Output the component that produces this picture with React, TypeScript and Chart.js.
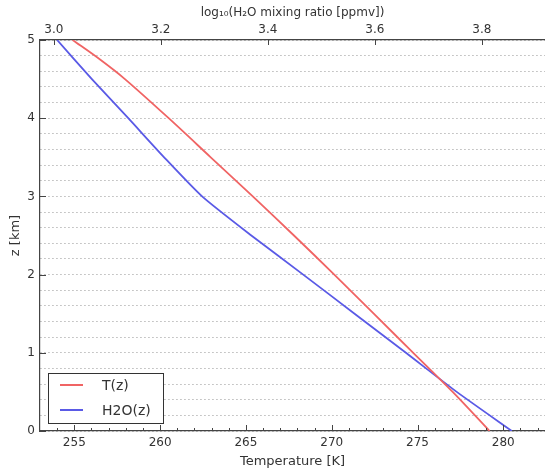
import React, { useEffect, useRef } from 'react';
import { Chart, registerables } from 'chart.js';

Chart.register(...registerables);

// Temperature profile T(z)
const Z_T = [0, 0.5, 1, 1.5, 2, 2.5, 3, 3.5, 4, 4.5, 4.75, 5];
const TEMP = [279.2, 277.05, 274.75, 272.45, 270.15, 267.8, 265.4, 262.95, 260.5, 257.95, 256.5, 254.9];

// log10 H2O mixing ratio profile
const Z_H2O = [0, 0.5, 1, 1.5, 2, 2.5, 3, 3.5, 4, 4.5, 5];
const LOG_H2O = [3.856, 3.753, 3.658, 3.562, 3.466, 3.369, 3.277, 3.206, 3.139, 3.071, 3.006];

// Axis ticks
const T_TICKS = [255, 260, 265, 270, 275, 280];
const T_MINOR = [254, 256, 257, 258, 259, 261, 262, 263, 264, 266, 267, 268, 269, 271, 272, 273, 274, 276, 277, 278, 279, 281, 282];
const LOG_TICKS = [3.0, 3.2, 3.4, 3.6, 3.8];
const Z_TICKS = [0, 1, 2, 3, 4, 5];
const Z_GRID_STEP = 0.2;

const T_MIN = 253;
const T_MAX = 282.43;
const LOG_MIN = 2.974;
const LOG_MAX = 3.918;

const FONT = 'DejaVu Sans';
const TEXT = '#333';
const AXIS = '#444';

const insideTicks = {
  id: 'insideTicks',
  afterDatasetsDraw(chart: any) {
    const { ctx, chartArea: a, scales } = chart;
    ctx.save();
    ctx.strokeStyle = AXIS;
    ctx.lineWidth = 1;
    const seg = (x1: number, y1: number, x2: number, y2: number) => {
      ctx.beginPath();
      ctx.moveTo(x1, y1);
      ctx.lineTo(x2, y2);
      ctx.stroke();
    };
    T_TICKS.forEach((v) => {
      const p = Math.round(scales.x.getPixelForValue(v)) + 0.5;
      seg(p, a.bottom, p, a.bottom - 6);
    });
    T_MINOR.forEach((v) => {
      const p = Math.round(scales.x.getPixelForValue(v)) + 0.5;
      seg(p, a.bottom, p, a.bottom - 3);
    });
    LOG_TICKS.forEach((v) => {
      const p = Math.round(scales.x2.getPixelForValue(v)) + 0.5;
      seg(p, a.top, p, a.top + 5);
    });
    Z_TICKS.forEach((v) => {
      const p = Math.round(scales.y.getPixelForValue(v)) + 0.5;
      seg(a.left, p, a.left + 6, p);
    });
    ctx.restore();
  },
};

const boxLegend = {
  id: 'boxLegend',
  afterDraw(chart: any) {
    const { ctx, chartArea: a } = chart;
    const x = a.left + 8;
    const w = 115;
    const h = 50;
    const y = a.bottom - 8 - h;
    ctx.save();
    ctx.fillStyle = '#fff';
    ctx.fillRect(x, y, w, h);
    ctx.strokeStyle = '#333';
    ctx.lineWidth = 1;
    ctx.strokeRect(Math.round(x) + 0.5, Math.round(y) + 0.5, w, h);
    ctx.font = `14px "${FONT}"`;
    ctx.textBaseline = 'middle';
    ctx.textAlign = 'left';
    chart.data.datasets.forEach((ds: any, i: number) => {
      const ry = y + 12 + i * 25;
      ctx.strokeStyle = ds.borderColor;
      ctx.lineWidth = 2;
      ctx.beginPath();
      ctx.moveTo(x + 12, ry);
      ctx.lineTo(x + 35, ry);
      ctx.stroke();
      ctx.fillStyle = TEXT;
      ctx.fillText(ds.label, x + 54, ry + 1);
    });
    ctx.restore();
  },
};

export default function App() {
  const ref = useRef<HTMLCanvasElement>(null);

  useEffect(() => {
    document.body.style.overflow = 'hidden';
    const zGrid: number[] = [];
    for (let i = 0; i <= 25; i++) zGrid.push(Math.round(i * Z_GRID_STEP * 10) / 10);

    const chart = new Chart(ref.current as HTMLCanvasElement, {
      type: 'scatter',
      data: {
        datasets: [
          {
            label: 'T(z)',
            data: Z_T.map((z, i) => ({ x: TEMP[i], y: z })),
            xAxisID: 'x',
            yAxisID: 'y',
            showLine: true,
            borderColor: '#f06464',
            backgroundColor: '#f06464',
            borderWidth: 1.8,
            pointRadius: 0,
            tension: 0.3,
          },
          {
            label: 'H2O(z)',
            data: Z_H2O.map((z, i) => ({ x: LOG_H2O[i], y: z })),
            xAxisID: 'x2',
            yAxisID: 'y',
            showLine: true,
            borderColor: '#5a5ae6',
            backgroundColor: '#5a5ae6',
            borderWidth: 1.8,
            pointRadius: 0,
            tension: 0.2,
          },
        ],
      },
      options: {
        responsive: false,
        animation: false,
        events: [],
        layout: { padding: 0 },
        plugins: {
          legend: { display: false },
          tooltip: { enabled: false },
        },
        scales: {
          x: {
            type: 'linear',
            position: 'bottom',
            min: T_MIN,
            max: T_MAX,
            afterBuildTicks: (s: any) => {
              s.ticks = T_TICKS.map((v) => ({ value: v }));
            },
            afterFit: (s: any) => {
              s.height = 40;
            },
            grid: { display: false, drawTicks: false },
            border: { display: true, color: AXIS, width: 1.2 },
            ticks: {
              autoSkip: false,
              maxRotation: 0,
              padding: 5,
              color: TEXT,
              font: { family: FONT, size: 12 },
              callback: (v: any) => String(v),
            },
            title: {
              display: true,
              text: 'Temperature [K]',
              color: TEXT,
              font: { family: FONT, size: 13 },
              padding: { top: 0, bottom: 2 },
            },
          },
          x2: {
            type: 'linear',
            position: 'top',
            min: LOG_MIN,
            max: LOG_MAX,
            afterBuildTicks: (s: any) => {
              s.ticks = LOG_TICKS.map((v) => ({ value: v }));
            },
            afterFit: (s: any) => {
              s.height = 40;
            },
            grid: { display: false, drawTicks: false },
            border: { display: true, color: AXIS, width: 1.2 },
            ticks: {
              autoSkip: false,
              maxRotation: 0,
              padding: 3,
              color: TEXT,
              font: { family: FONT, size: 12 },
              callback: (v: any) => Number(v).toFixed(1),
            },
            title: {
              display: true,
              text: 'log₁₀(H₂O mixing ratio [ppmv])',
              color: TEXT,
              font: { family: FONT, size: 12 },
              padding: { top: 6, bottom: 0 },
            },
          },
          y: {
            type: 'linear',
            position: 'left',
            min: 0,
            max: 5,
            afterBuildTicks: (s: any) => {
              s.ticks = zGrid.map((v) => ({ value: v }));
            },
            afterFit: (s: any) => {
              s.width = 40;
            },
            grid: {
              display: true,
              drawTicks: false,
              color: '#b8b8b8',
              lineWidth: 1,
            },
            border: { display: true, color: AXIS, width: 1.2, dash: [1.5, 2.5] },
            ticks: {
              autoSkip: false,
              padding: 5,
              color: TEXT,
              font: { family: FONT, size: 12 },
              callback: (v: any) => (Z_TICKS.includes(Number(v)) ? String(v) : ''),
            },
            title: {
              display: true,
              text: 'z [km]',
              color: TEXT,
              font: { family: FONT, size: 13 },
              padding: { top: 8, bottom: 0 },
            },
          },
        },
      },
      plugins: [insideTicks, boxLegend],
    } as any);

    return () => chart.destroy();
  }, []);

  return (
    <div style={{ position: 'absolute', left: 0, top: 0, width: 545, height: 471, overflow: 'hidden' }}>
      <canvas ref={ref} width={545} height={471} style={{ display: 'block', width: 545, height: 471 }} />
    </div>
  );
}
